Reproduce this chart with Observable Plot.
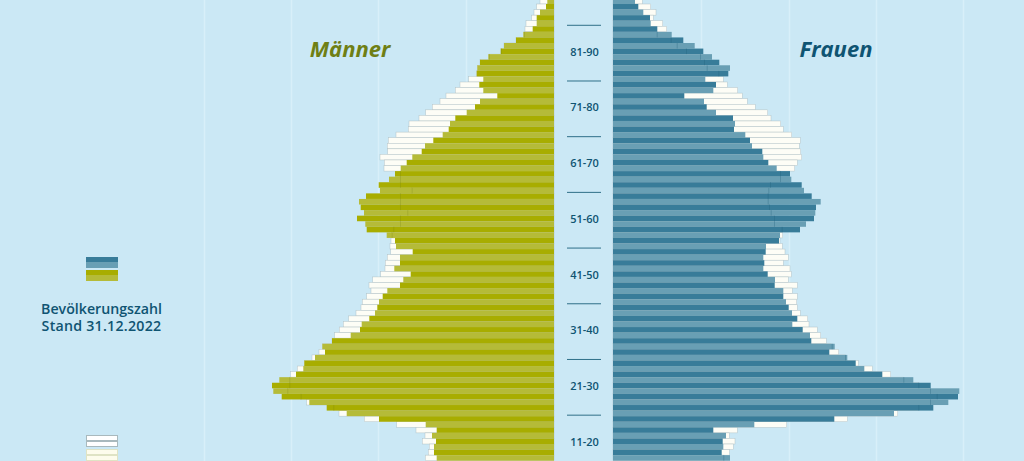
<!DOCTYPE html>
<html lang="de">
<head>
<meta charset="utf-8">
<script src="https://cdn.jsdelivr.net/npm/d3@7"></script>
<script src="https://cdn.jsdelivr.net/npm/@observablehq/plot@0.6"></script>
<style>
  html, body { margin: 0; padding: 0; background: #cbe8f5; overflow: hidden; }
  #wrap { position: relative; width: 1024px; height: 461px; overflow: hidden; font-family: "Open Sans", sans-serif; }
  #wrap svg { display: block; background: transparent; }
  .note { position: absolute; left: 0; width: 203px; top: 300px; text-align: center; color: #0f5472; font-weight: 600; font-size: 14.2px; line-height: 17px; white-space: nowrap; }
  .note span { letter-spacing: 0.25px; }
  .sw { position: absolute; left: 86px; width: 32px; box-sizing: border-box; }
</style>
</head>
<body>
<div id="wrap"></div>
<script>
// Single years of age, oldest first (cropped at the top and bottom of the picture)
const ages = d3.range(95, 12, -1);
// Current population (scale: 10 persons per pixel)
const menNow = [67,80,140,173,173,213,307,380,500,533,657,740,767,773,707,747,707,567,740,790,873,987,1040,1053,1113,1207,1290,1323,1417,1473,1533,1590,1650,1753,1740,1880,1950,1933,1900,1970,1887,1873,1673,1590,1580,1413,1540,1540,1597,1433,1507,1540,1667,1713,1750,1767,1790,1847,1923,1940,2033,2220,2317,2290,2390,2497,2507,2580,2747,2820,2807,2723,2447,2273,2073,1750,1283,1173,1220,1180,1200,1200,1173];
const womenNow = [220,253,303,370,377,443,587,703,817,903,990,1063,1170,1153,923,1030,1003,713,910,937,1030,1200,1220,1210,1323,1370,1390,1493,1503,1553,1637,1770,1783,1887,1910,1987,2077,2030,2023,2010,1930,1870,1670,1660,1530,1527,1503,1513,1503,1547,1620,1617,1703,1703,1730,1757,1790,1843,1793,1897,1970,1983,2217,2163,2343,2427,2513,2693,3003,3177,3463,3450,3353,3203,2810,2213,1413,1003,1130,1097,1103,1087,1170];
// Comparison population (outlined bars)
const menRef = [140,173,200,223,280,290,300,380,500,530,650,740,767,773,853,940,987,1080,1140,1217,1283,1350,1450,1457,1580,1657,1667,1663,1740,1697,1700,1540,1540,1540,1423,1540,1540,1540,1467,1540,1540,1607,1623,1630,1640,1633,1667,1687,1690,1733,1813,1850,1830,1873,1917,1930,1980,2053,2107,2147,2193,2220,2317,2350,2420,2497,2567,2633,2647,2647,2667,2533,2473,2207,2150,1897,1573,1380,1290,1317,1247,1257,1287];
const womenRef = [293,377,430,403,497,537,437,577,637,730,870,910,937,1053,1103,1143,1247,1293,1343,1423,1547,1580,1677,1703,1787,1873,1863,1877,1887,1843,1817,1670,1670,1570,1553,1547,1547,1560,1577,1610,1610,1687,1697,1670,1693,1720,1753,1703,1770,1783,1753,1843,1793,1843,1837,1843,1873,1947,1960,2043,2077,2133,2187,2257,2320,2453,2593,2777,2903,3053,3170,3237,3170,3053,2847,2343,1737,1243,1163,1220,1203,1163,1103];
// Age classes on the central axis
const bandLabels = ["91-100","81-90","71-80","61-70","51-60","41-50","31-40","21-30","11-20"];
const bandMid = [96,86,76,66,56,46,36,26,16];
const bandTicks = [91,81,71,61,51,41,31,21];
const gridValues = [880,1760,2630,3500];

const GAP = 295; // half of the central column, in scale units
const colors = {
  men: ["#b5bb38", "#a8ad00"],
  women: ["#699fb4", "#387c99"]
};
const rows = ages.map((age, i) => ({age, i, mn: menNow[i], wn: womenNow[i], mr: menRef[i], wr: womenRef[i]}));
const L = v => -GAP - v;
const R = v => GAP + v;

const plot = Plot.plot({
  width: 1024, height: 461,
  margin: 0,
  style: {background: "transparent", fontFamily: '"Open Sans", sans-serif', overflow: "hidden"},
  x: {domain: [-5835, 4405], range: [0, 1024], axis: null},
  y: {domain: [95.72, 12.95], range: [0, 461], axis: null},
  marks: [
    // gridlines
    Plot.ruleX(gridValues, {x: d => L(d), stroke: "#d8eff9", strokeWidth: 1.6}),
    Plot.ruleX(gridValues, {x: d => R(d), stroke: "#d8eff9", strokeWidth: 1.6}),
    // comparison bars
    Plot.rectX(rows, {x1: d => L(0), x2: d => L(d.mr), y1: "age", y2: d => d.age + 1, fill: "#fdfdf6", stroke: "#a9b9bd", strokeWidth: 0.5, strokeOpacity: 0.8, inset: 0}),
    Plot.rectX(rows, {x1: d => R(0), x2: d => R(d.wr), y1: "age", y2: d => d.age + 1, fill: "#fdfdf6", stroke: "#a9b9bd", strokeWidth: 0.5, strokeOpacity: 0.8, inset: 0}),
    // current bars
    Plot.rectX(rows, {x1: d => L(0), x2: d => L(d.mn), y1: "age", y2: d => d.age + 1, fill: d => colors.men[d.i % 2], inset: 0}),
    Plot.rectX(rows, {x1: d => R(0), x2: d => R(d.wn), y1: "age", y2: d => d.age + 1, fill: d => colors.women[d.i % 2], inset: 0}),
    // comparison line where the current bar is longer
    Plot.ruleX(rows.filter(d => d.mn > d.mr), {x: d => L(d.mr), y1: "age", y2: d => d.age + 1, stroke: "#6b7a10", strokeOpacity: 0.35, strokeWidth: 0.6}),
    Plot.ruleX(rows.filter(d => d.wn > d.wr), {x: d => R(d.wr), y1: "age", y2: d => d.age + 1, stroke: "#1d5d78", strokeOpacity: 0.5, strokeWidth: 0.6}),
    // central axis
    Plot.ruleY(bandTicks, {y: d => d, x1: -165, x2: 175, stroke: "#2f6f88", strokeWidth: 1, dy: -1.5}),
    Plot.text(bandLabels, {x: 5, y: (d, i) => bandMid[i], text: d => d, fill: "#0f5472", fontWeight: 600, fontSize: 11, dy: -2.4, textAnchor: "middle"}),
    // headings
    Plot.text(["Männer"], {x: -2340, y: 86.85, text: d => d, fill: "#6f7f14", fontWeight: 700, fontStyle: "italic", fontSize: 22, textAnchor: "middle"}),
    Plot.text(["Frauen"], {x: 2520, y: 86.85, text: d => d, fill: "#0f5472", fontWeight: 700, fontStyle: "italic", fontSize: 22, textAnchor: "middle"})
  ]
});
const wrap = document.getElementById("wrap");
wrap.append(plot);

// Legend
const swatches = [
  [257, 5, "#387c99", ""], [262, 5.5, "#699fb4", ""],
  [269.5, 5.5, "#a8ad00", ""], [275, 5.5, "#b5bb38", ""],
  [435, 6, "#fff", "1px solid #a9b9bd"], [441, 6, "#fff", "1px solid #a9b9bd"],
  [449, 6, "#fdfcec", "1px solid #dfe3c4"], [455, 6, "#fdfcec", "1px solid #dfe3c4"]
];
for (const [top, h, bg, border] of swatches) {
  const s = document.createElement("div");
  s.className = "sw";
  s.style.cssText = `top:${top}px;height:${h}px;background:${bg};${border ? "border:" + border + ";" : ""}`;
  wrap.append(s);
}
const note = document.createElement("div");
note.className = "note";
note.innerHTML = "Bevölkerungszahl<br><span>Stand 31.12.2022</span>";
wrap.append(note);
</script>
</body>
</html>
